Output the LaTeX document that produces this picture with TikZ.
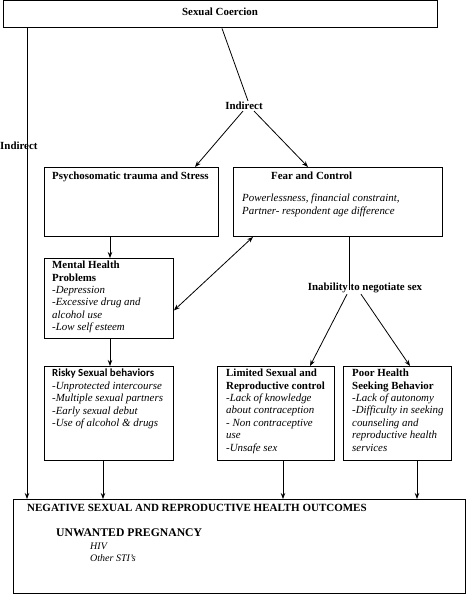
\documentclass[tikz,border=0pt]{standalone}
\usepackage{fontspec}
\setmainfont{Liberation Serif}
\newfontfamily\calibfont{Carlito}
\usetikzlibrary{arrows.meta}
\begin{document}
\begin{tikzpicture}[x=1pt,y=-1pt,
  every node/.style={font=\fontsize{10.9}{12.4}\selectfont},
  box/.style={draw, line width=0.9pt, inner sep=0pt, anchor=north west},
  txt/.style={inner sep=0pt, anchor=north west, align=left},
  lbl/.style={inner sep=1pt, font=\fontsize{10.9}{12.4}\selectfont\bfseries},
  ln/.style={line width=0.8pt},
  arr/.style={line width=0.8pt, -{Stealth[length=6pt,width=4.5pt]}},
  darr/.style={line width=0.8pt, {Stealth[length=6pt,width=4.5pt]}-{Stealth[length=6pt,width=4.5pt]}}]
\useasboundingbox (0,0) rectangle (473,594);
% boxes
\node[box, minimum width=434pt, minimum height=27pt] (coer) at (3,0.5) {};
\node[box, minimum width=174pt, minimum height=69pt] (psy) at (44,167) {};
\node[box, minimum width=209pt, minimum height=69pt] (fear) at (233,167) {};
\node[box, minimum width=129pt, minimum height=80pt] (mh) at (44,258) {};
\node[box, minimum width=129pt, minimum height=94pt] (risky) at (44,366) {};
\node[box, minimum width=117pt, minimum height=94pt] (lim) at (217,366) {};
\node[box, minimum width=108pt, minimum height=94pt] (poor) at (343,366) {};
\node[box, minimum width=452pt, minimum height=94pt] (neg) at (13,499) {};
% texts
\node[lbl] (tcoer) at (220,12) {Sexual Coercion};
\node[lbl, anchor=west, inner sep=0pt] (ind1) at (0,146) {Indirect};
\node[lbl] (ind2) at (244,106) {Indirect};
\node[lbl] (inab) at (365,288) {Inability to negotiate sex};
\node[txt] (tpsy) at (52,172) {\textbf{Psychosomatic trauma and Stress}};
\node[txt] (tfear) at (271,172) {\textbf{Fear and Control}};
\node[txt] (tfear2) at (242,194) {\textit{Powerlessness, financial constraint,}\\\textit{Partner- respondent age difference}};
\node[txt] (tmh) at (52,261) {\textbf{Mental Health}\\\textbf{Problems}\\\textit{-Depression}\\\textit{-Excessive drug and}\\\textit{alcohol use}\\\textit{-Low self esteem}};
\node[txt] (trisky) at (52,369) {{\calibfont\bfseries Risky Sexual behaviors}\\\textit{-Unprotected intercourse}\\\textit{-Multiple sexual partners}\\\textit{-Early sexual debut}\\\textit{-Use of alcohol \& drugs}};
\node[txt] (tlim) at (226,369) {\textbf{Limited Sexual and}\\\textbf{Reproductive control}\\\textit{-Lack of knowledge}\\\textit{about contraception}\\\textit{- Non contraceptive}\\\textit{use}\\\textit{-Unsafe sex}};
\node[txt] (tpoor) at (352,369) {\textbf{Poor Health}\\\textbf{Seeking Behavior}\\\textit{-Lack of autonomy}\\\textit{-Difficulty in seeking}\\\textit{counseling and}\\\textit{reproductive health}\\\textit{services}};
\node[txt, font=\fontsize{11}{12.4}\selectfont\bfseries] (tneg) at (27,504) {NEGATIVE SEXUAL AND REPRODUCTIVE HEALTH OUTCOMES};
\node[txt, font=\fontsize{11.7}{14}\selectfont\bfseries] (tunw) at (56,529) {UNWANTED PREGNANCY};
\node[txt, font=\fontsize{10}{11.5}\selectfont\itshape] (thiv) at (90,543) {HIV\\Other STI's};
% x positions
\coordinate (c27) at (27,0);
\coordinate (c222) at (222,0);
\coordinate (c195) at (195,0);
\coordinate (c308) at (308,0);
\coordinate (c110) at (110,0);
\coordinate (c253) at (253,0);
\coordinate (c349) at (349,0);
\coordinate (c310) at (310,0);
\coordinate (c410) at (410,0);
\coordinate (c103) at (103,0);
\coordinate (c283) at (283,0);
\coordinate (c417) at (417,0);
% connectors
\draw[arr] (coer.south -| c27) -- (neg.north -| c27);
\draw[ln] (coer.south -| c222) -- ([xshift=4pt]ind2.north);
\draw[arr] ([xshift=-1pt]ind2.south) -- (psy.north -| c195);
\draw[arr] ([xshift=10pt]ind2.south) -- (fear.north -| c308);
\draw[arr] (psy.south -| c110) -- (mh.north -| c110);
\draw[darr] (fear.south -| c253) -- ([yshift=-12pt]mh.east);
\draw[ln] (fear.south -| c349) -- ([xshift=-16pt,yshift=-2pt]inab.center);
\draw[arr] ([xshift=-18pt]inab.south) -- (lim.north -| c310);
\draw[arr] ([xshift=-4pt]inab.south) -- (poor.north -| c410);
\draw[arr] (mh.south -| c110) -- (risky.north -| c110);
\draw[arr] (risky.south -| c103) -- (neg.north -| c103);
\draw[arr] (lim.south -| c283) -- (neg.north -| c283);
\draw[arr] (poor.south -| c417) -- (neg.north -| c417);
\end{tikzpicture}
\end{document}
